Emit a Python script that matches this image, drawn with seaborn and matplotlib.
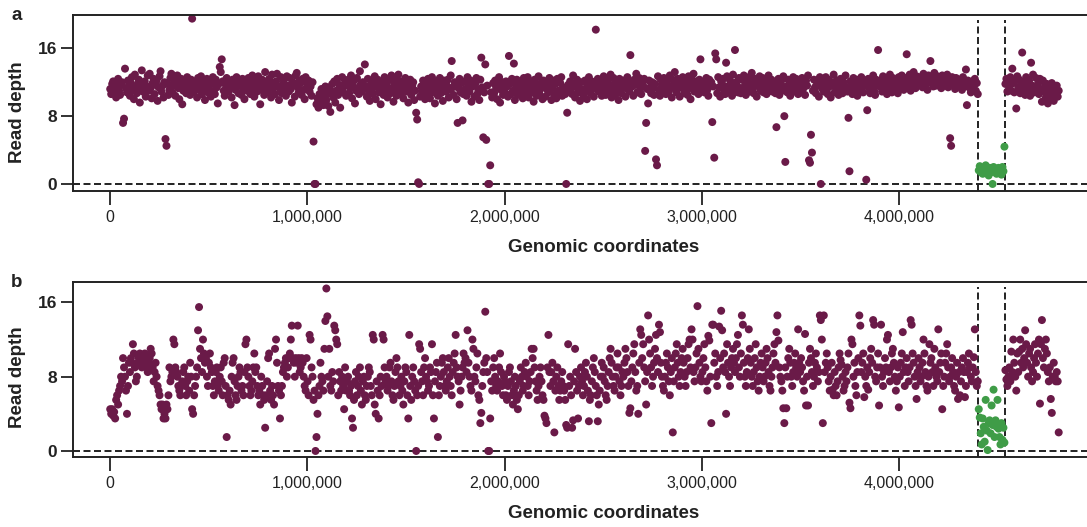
import numpy as np
import pandas as pd
import matplotlib
matplotlib.use("Agg")
import matplotlib.pyplot as plt
import seaborn as sns

# Read depth in consecutive 5 kb windows along the chromosome
WINDOW = 5000
DEL_START, DEL_END = 4_400_000, 4_535_000   # deleted region (dashed lines)

depth_a = [
    11.2, 10.6, 11.8, 12.1, 10.9, 11.5, 10.2, 11.9, 12.4, 11.0, 10.5, 11.7, 12.0, 7.2, 7.7, 13.6, 11.3, 10.8, 12.2, 11.6,
    10.4, 11.9, 12.6, 11.1, 10.0, 12.9, 11.4, 10.7, 11.8, 12.3, 9.6, 11.2, 13.4, 10.9, 11.6, 12.1, 10.3, 11.5, 12.8, 11.0,
    13.0, 11.3, 10.1, 11.9, 12.4, 10.6, 11.7, 12.2, 9.8, 11.4, 12.7, 13.3, 10.9, 11.6, 10.2, 12.0, 5.3, 4.5, 11.8, 10.5,
    11.1, 12.5, 13.0, 10.8, 11.6, 12.2, 10.4, 11.9, 12.8, 11.3, 10.0, 11.7, 12.4, 9.4, 11.0, 12.1, 11.5, 10.7, 12.6, 11.2,
    11.8, 10.5, 12.3, 19.5, 11.4, 10.9, 12.0, 11.6, 10.2, 12.5, 11.1, 11.8, 12.7, 10.6, 11.3, 12.1, 9.9, 11.7, 12.4, 10.8,
    11.5, 12.2, 10.3, 11.9, 12.6, 11.0, 10.6, 12.3, 11.4, 9.5, 11.8, 13.8, 13.2, 14.7, 12.1, 11.0, 10.4, 11.7, 12.5, 11.3,
    10.9, 12.0, 11.4, 10.2, 12.3, 11.7, 9.3, 11.1, 12.6, 11.5, 10.7, 12.1, 11.9, 10.5, 12.4, 11.2, 10.0, 11.8, 12.2, 11.0,
    12.5, 11.3, 10.6, 11.9, 12.8, 11.1, 10.3, 12.2, 11.6, 10.9, 12.7, 11.4, 9.4, 11.8, 12.3, 11.0, 10.5, 13.2, 12.0, 11.5,
    10.8, 12.4, 11.7, 10.2, 12.9, 11.3, 11.9, 10.6, 12.1, 13.0, 11.5, 9.9, 11.2, 12.6, 10.7, 11.8, 12.3, 11.0, 10.4, 12.7,
    11.6, 10.9, 12.5, 11.2, 9.6, 12.0, 11.7, 10.3, 12.8, 13.1, 11.4, 10.8, 12.2, 11.9, 10.5, 12.4, 11.1, 10.0, 12.6, 11.3,
    11.8, 12.2, 10.9, 11.5, 10.4, 12.0, 5.0, 0.0, 0.0, 9.4, 10.1, 9.0, 10.6, 9.7, 11.2, 10.3, 9.3, 10.8, 11.5, 9.9,
    10.6, 9.2, 11.4, 8.5, 10.9, 11.8, 10.2, 12.1, 9.6, 11.0, 12.4, 10.5, 11.7, 9.0, 11.3, 12.6, 10.8, 11.5, 12.0, 10.4,
    11.9, 12.3, 10.7, 11.4, 12.8, 10.1, 11.6, 12.2, 9.5, 11.0, 12.5, 11.3, 10.6, 13.3, 11.8, 10.9, 12.0, 11.2, 14.1, 11.5,
    10.3, 12.4, 11.0, 9.8, 11.7, 12.1, 10.6, 11.4, 12.7, 10.0, 11.9, 12.3, 10.8, 11.5, 9.4, 12.0, 11.2, 10.5, 12.6, 11.1,
    11.6, 10.2, 12.2, 11.3, 10.7, 12.8, 11.0, 9.7, 11.8, 12.4, 10.4, 11.5, 12.9, 11.1, 10.6, 12.1, 11.7, 10.1, 11.4, 12.5,
    10.9, 11.8, 9.6, 11.2, 12.3, 10.5, 11.6, 12.0, 9.9, 11.0, 8.4, 7.6, 0.2, 0.0, 10.3, 11.5, 10.8, 12.2, 11.1, 10.0,
    11.7, 10.6, 12.4, 11.3, 10.1, 11.9, 12.6, 10.8, 11.4, 9.5, 12.1, 11.0, 10.4, 11.8, 12.5, 10.7, 11.2, 9.8, 12.2, 11.5,
    10.9, 11.6, 12.3, 10.2, 11.1, 12.8, 14.5, 11.4, 10.5, 12.0, 11.7, 10.0, 7.2, 11.3, 12.4, 10.8, 11.9, 7.5, 10.6, 12.1,
    11.2, 10.4, 12.6, 11.7, 10.9, 12.2, 9.7, 11.5, 12.0, 10.3, 11.8, 12.5, 10.6, 11.1, 9.9, 12.3, 14.9, 11.4, 5.5, 10.8,
    14.1, 5.2, 11.6, 0.0, 0.0, 2.2, 10.8, 10.2, 11.9, 10.7, 12.2, 11.3, 10.0, 11.7, 12.6, 9.6, 11.1, 12.0, 10.5, 11.4,
    10.8, 12.1, 11.5, 10.3, 15.1, 11.8, 10.6, 12.4, 11.0, 14.2, 9.9, 11.7, 12.3, 10.5, 11.2, 12.0, 10.9, 11.6, 10.1, 12.5,
    11.3, 10.7, 11.9, 12.6, 10.2, 11.4, 12.1, 10.8, 11.7, 9.7, 12.3, 11.0, 10.4, 11.8, 12.7, 10.6, 11.2, 11.9, 10.0, 12.2,
    11.5, 10.3, 12.0, 11.1, 10.8, 12.5, 11.6, 9.9, 11.3, 12.2, 10.5, 11.8, 10.1, 12.4, 11.0, 10.7, 11.9, 12.6, 10.4, 11.4,
    11.2, 10.6, 0.0, 8.4, 11.7, 10.9, 12.1, 11.2, 10.6, 12.8, 11.5, 10.2, 11.9, 12.3, 10.8, 11.4, 9.8, 12.0, 11.1, 10.5,
    10.6, 12.2, 11.3, 10.0, 11.8, 12.6, 11.0, 10.7, 12.1, 11.5, 10.3, 11.9, 18.2, 11.2, 12.4, 10.9, 11.6, 12.0, 10.4, 11.3,
    12.7, 11.1, 10.5, 11.8, 12.3, 10.8, 11.4, 12.9, 10.2, 11.7, 12.5, 11.0, 10.6, 12.1, 11.5, 9.9, 12.4, 11.2, 10.7, 11.9,
    12.2, 11.4, 10.3, 11.8, 12.6, 11.1, 10.9, 15.2, 12.0, 11.5, 10.4, 12.3, 11.7, 13.0, 10.8, 11.9, 12.5, 11.2, 10.6, 12.1,
    11.6, 12.4, 3.9, 7.2, 11.2, 9.5, 12.2, 11.4, 10.7, 12.0, 11.3, 10.5, 11.8, 2.9, 2.2, 12.7, 11.1, 10.4, 12.3, 11.7,
    11.0, 12.5, 11.8, 10.6, 12.1, 11.3, 10.9, 12.8, 11.5, 10.2, 12.3, 11.7, 13.2, 11.1, 10.8, 12.4, 11.6, 10.3, 12.0, 11.4,
    12.6, 11.2, 10.7, 12.2, 11.9, 10.5, 12.7, 11.3, 10.0, 12.4, 11.8, 13.0, 10.9, 11.5, 12.1, 11.0, 10.6, 12.3, 14.7, 11.7,
    11.3, 12.0, 10.8, 11.9, 12.5, 11.1, 10.4, 12.3, 11.6, 12.0, 7.3, 11.5, 3.1, 15.4, 14.7, 10.7, 12.6, 11.4, 10.3, 12.1,
    11.8, 12.4, 11.0, 10.6, 14.3, 12.7, 11.5, 10.9, 12.2, 11.7, 10.4, 12.9, 11.2, 15.8, 12.0, 11.6, 10.8, 12.5, 11.3, 10.7,
    12.3, 11.1, 12.8, 11.6, 10.5, 12.0, 11.4, 12.6, 10.9, 11.8, 13.1, 11.2, 10.7, 12.4, 11.9, 10.3, 12.2, 11.5, 12.7, 11.0,
    11.7, 12.5, 10.8, 11.3, 12.1, 10.6, 11.9, 12.8, 11.0, 11.4, 12.3, 10.9, 11.6, 12.0, 10.7, 6.7, 11.2, 12.4, 10.5, 11.8,
    12.2, 11.0, 12.7, 8.0, 2.6, 11.5, 10.8, 12.3, 11.7, 10.4, 12.0, 11.3, 12.6, 10.9, 11.8, 12.4, 11.1, 10.6, 12.1, 11.6,
    10.8, 12.5, 11.2, 11.9, 10.5, 12.2, 11.6, 12.8, 2.8, 2.5, 5.8, 3.7, 11.0, 12.3, 11.4, 10.7, 12.0, 11.7, 10.3, 12.6,
    0.0, 11.3, 12.1, 10.9, 11.8, 12.6, 11.1, 10.6, 12.3, 11.5, 10.2, 12.0, 11.7, 12.9, 10.8, 11.4, 12.2, 11.0, 10.5, 11.9,
    12.4, 11.2, 10.7, 12.0, 11.6, 12.8, 11.3, 10.9, 7.8, 1.5, 12.1, 11.5, 10.6, 12.5, 11.0, 11.8, 12.3, 10.4, 11.7, 12.0,
    11.1, 12.6, 11.4, 10.8, 12.2, 11.9, 0.5, 8.7, 12.4, 11.3, 10.7, 12.0, 11.6, 12.8, 11.0, 10.5, 12.3, 11.7, 15.8, 12.1,
    11.5, 12.2, 10.9, 12.7, 11.8, 11.2, 12.4, 10.6, 12.0, 11.6, 12.9, 11.3, 10.8, 12.5, 11.9, 11.0, 12.3, 11.7, 10.7, 12.6,
    12.0, 11.4, 12.8, 11.7, 11.1, 12.5, 11.9, 15.3, 12.2, 11.5, 12.9, 11.0, 12.4, 11.8, 13.2, 12.1, 11.3, 12.7, 11.6, 12.3,
    11.8, 12.6, 12.2, 11.4, 13.0, 12.0, 11.7, 12.5, 11.1, 12.8, 12.3, 14.5, 11.9, 12.4, 11.5, 13.1, 12.0, 11.6, 12.7, 12.2,
    11.9, 12.5, 11.3, 12.8, 12.1, 11.6, 12.4, 11.8, 12.9, 11.4, 12.2, 5.4, 4.5, 12.6, 11.7, 12.0, 11.2, 12.5, 11.9, 11.5,
    12.3, 11.7, 12.0, 11.1, 12.6, 11.5, 11.9, 13.5, 9.3, 12.2, 11.4, 11.8, 10.8, 12.1, 11.3, 11.6, 12.4, 11.0, 11.9, 10.6,
    1.6, 2.1, 1.4, 1.8, 1.2, 1.9, 1.5, 2.2, 1.3, 1.7, 1.0, 1.9, 1.6, 1.4, 0.0, 2.0, 1.5, 1.8, 1.2, 1.7,
    1.9, 1.4, 1.7, 1.1, 2.0, 1.5, 4.4, 11.8, 12.4, 10.9, 12.1, 11.3, 12.6, 11.0, 13.6, 11.9, 10.8, 12.2, 8.9, 12.7,
    11.4, 12.3, 10.7, 11.8, 15.5, 12.0, 11.2, 10.5, 12.6, 11.7, 11.0, 12.2, 10.4, 14.3, 11.6, 12.9, 10.8, 11.3, 12.5, 10.9,
    11.8, 10.6, 12.4, 11.1, 9.7, 12.2, 10.9, 11.5, 10.2, 11.8, 9.5, 10.7, 11.3, 10.0, 11.9, 10.4, 9.8, 11.1, 10.6, 11.6,
    10.3, 11.0,
]

depth_b = [
    4.5, 4.0, 4.5, 3.8, 4.2, 3.5, 5.5, 6.0, 5.0, 6.5, 7.0, 8.0, 7.5, 10.0, 9.0, 8.0, 6.5, 4.0, 7.0, 9.5,
    8.5, 10.0, 9.5, 11.5, 10.5, 9.0, 7.5, 8.0, 9.5, 10.0, 10.5, 9.5, 9.0, 10.0, 9.5, 10.5, 10.0, 9.0, 8.5, 9.5,
    10.0, 11.0, 10.5, 9.0, 7.5, 8.5, 9.5, 8.0, 7.0, 6.5, 6.0, 5.0, 4.5, 5.0, 3.5, 4.0, 3.5, 5.0, 4.5, 6.0,
    9.0, 7.5, 8.0, 8.5, 12.0, 11.5, 9.0, 8.5, 8.0, 7.0, 6.5, 6.0, 7.0, 7.5, 8.5, 9.0, 7.0, 6.0, 7.5, 8.0,
    6.5, 9.5, 8.0, 4.5, 4.0, 6.0, 7.0, 8.0, 9.0, 13.0, 15.5, 11.0, 10.0, 8.5, 12.0, 10.5, 9.5, 10.0, 8.0, 7.0,
    9.5, 10.5, 9.0, 8.5, 7.0, 6.0, 7.5, 8.5, 9.0, 7.0, 6.5, 8.0, 9.0, 7.5, 6.0, 9.5, 10.0, 7.0, 1.5, 6.0,
    5.5, 6.5, 5.0, 8.0, 9.5, 10.0, 7.5, 6.0, 5.5, 7.0, 8.0, 9.0, 8.5, 6.5, 7.0, 6.0, 8.5, 11.5, 12.0, 9.0,
    8.0, 7.0, 6.0, 6.5, 7.5, 9.0, 10.5, 8.5, 9.0, 7.0, 6.0, 6.5, 5.0, 8.0, 7.0, 6.0, 5.5, 2.5, 6.0, 7.5,
    10.0, 10.5, 6.5, 5.5, 7.0, 6.0, 5.0, 11.0, 12.0, 9.5, 7.0, 6.5, 3.5, 6.0, 7.0, 8.5, 9.0, 9.5, 10.0, 8.0,
    9.0, 10.0, 10.5, 12.0, 13.5, 10.0, 9.5, 8.0, 10.0, 9.5, 13.5, 10.0, 8.5, 9.0, 10.0, 9.5, 8.0, 7.0, 6.5, 10.0,
    7.5, 6.0, 12.5, 12.0, 9.0, 8.0, 5.5, 6.5, 0.0, 1.5, 4.0, 6.0, 7.0, 9.5, 8.0, 7.5, 6.5, 11.0, 14.0, 17.5,
    14.5, 8.0, 11.0, 7.0, 6.5, 8.5, 7.5, 13.5, 13.0, 12.0, 11.5, 6.0, 8.5, 7.5, 6.5, 8.0, 7.0, 4.5, 9.0, 6.5,
    7.5, 8.0, 6.5, 6.0, 7.0, 3.5, 2.5, 5.5, 7.5, 8.5, 6.0, 7.0, 8.0, 9.0, 6.5, 5.0, 7.5, 8.0, 6.0, 5.5,
    7.0, 8.0, 9.0, 8.5, 7.0, 6.0, 12.5, 12.0, 5.0, 4.0, 7.5, 6.5, 3.5, 6.0, 8.0, 7.0, 12.5, 12.0, 9.0, 7.5,
    8.0, 6.5, 7.0, 9.0, 9.5, 7.5, 6.0, 5.5, 7.0, 8.5, 10.0, 9.0, 7.5, 6.0, 7.0, 8.0, 6.5, 5.0, 7.5, 9.0,
    8.5, 6.0, 3.5, 12.5, 7.0, 5.5, 8.0, 9.0, 7.5, 6.5, 0.0, 6.0, 7.0, 11.5, 11.0, 8.5, 7.5, 6.0, 9.0, 10.0,
    8.0, 7.5, 6.5, 7.0, 9.0, 8.5, 11.5, 6.0, 3.5, 7.5, 8.5, 9.5, 1.5, 6.0, 7.0, 8.0, 9.5, 10.0, 8.5, 7.0,
    6.5, 7.5, 9.0, 10.0, 8.0, 7.0, 6.0, 8.5, 9.5, 10.5, 12.5, 9.0, 8.0, 7.5, 5.0, 6.5, 8.0, 9.0, 10.5, 9.5,
    10.0, 8.5, 13.0, 9.5, 8.0, 7.0, 6.5, 12.0, 11.0, 8.0, 7.5, 9.0, 10.5, 6.0, 5.5, 3.0, 4.1, 7.0, 8.5, 9.5,
    15.0, 10.0, 8.5, 0.0, 0.0, 3.5, 7.5, 6.5, 9.0, 10.0, 8.0, 7.0, 6.5, 7.5, 9.0, 10.5, 8.5, 7.0, 6.0, 8.0,
    7.5, 6.0, 5.5, 7.0, 8.5, 9.0, 7.5, 6.0, 5.0, 6.5, 8.0, 7.0, 5.5, 4.5, 6.0, 7.5, 9.0, 8.0, 6.5, 7.0,
    8.5, 9.5, 8.0, 7.0, 6.0, 7.5, 8.5, 11.0, 10.0, 11.0, 9.0, 7.5, 6.5, 5.5, 7.0, 8.0, 9.0, 7.5, 6.0, 5.5,
    3.8, 3.5, 3.0, 9.0, 12.5, 8.5, 7.0, 8.5, 9.5, 7.5, 2.0, 6.5, 8.0, 9.0, 7.0, 5.5, 6.5, 7.5, 8.5, 7.0,
    6.5, 5.5, 2.8, 2.5, 11.5, 7.0, 8.0, 6.0, 2.5, 3.3, 7.5, 11.0, 8.5, 6.5, 3.5, 7.0, 8.0, 9.0, 7.5, 6.0,
    7.0, 8.5, 9.5, 8.0, 6.5, 3.2, 5.5, 6.0, 7.5, 9.0, 10.0, 8.5, 7.0, 6.0, 3.2, 5.0, 6.5, 8.0, 9.5, 8.0,
    9.0, 7.5, 6.0, 5.5, 7.0, 8.5, 10.0, 11.0, 9.5, 8.0, 7.0, 6.5, 8.0, 9.0, 10.5, 9.0, 7.5, 6.0, 7.0, 8.5,
    8.0, 9.5, 11.0, 10.0, 8.5, 7.0, 4.1, 4.6, 7.5, 9.0, 10.5, 11.5, 8.5, 6.5, 7.0, 4.0, 9.5, 13.1, 12.5, 10.0,
    11.5, 9.0, 7.5, 5.0, 8.5, 14.6, 12.0, 10.5, 9.0, 7.0, 8.0, 9.5, 11.0, 12.5, 10.0, 8.5, 13.6, 12.8, 9.5, 8.0,
    7.0, 6.5, 8.0, 9.5, 10.5, 9.0, 7.5, 6.0, 8.5, 10.0, 2.0, 7.5, 9.0, 10.5, 11.5, 9.5, 8.0, 7.0, 8.5, 10.0,
    11.0, 9.5, 8.0, 7.0, 8.5, 10.0, 11.5, 12.0, 9.0, 13.1, 12.0, 8.5, 7.5, 9.0, 10.5, 15.6, 11.0, 9.5, 8.0, 7.5,
    8.5, 10.0, 11.5, 9.0, 7.5, 6.5, 12.4, 11.9, 8.0, 3.0, 13.6, 13.6, 9.5, 10.5, 8.0, 7.0, 8.5, 13.4, 10.0, 15.1,
    13.0, 9.0, 10.5, 8.5, 4.0, 11.5, 9.5, 8.0, 7.0, 9.0, 10.0, 11.0, 9.5, 8.5, 10.0, 11.5, 12.5, 9.0, 8.0, 10.5,
    14.6, 13.6, 9.5, 8.0, 7.0, 8.5, 10.0, 13.1, 11.0, 9.5, 8.0, 7.0, 8.5, 10.0, 11.5, 9.0, 7.5, 6.5, 8.0, 9.5,
    10.5, 9.0, 7.5, 8.0, 9.5, 11.0, 10.0, 8.5, 7.0, 6.5, 8.0, 9.0, 10.5, 11.5, 9.5, 12.8, 14.6, 11.9, 9.0, 8.0,
    7.5, 6.5, 4.6, 3.0, 9.0, 4.6, 8.0, 10.0, 11.0, 9.5, 8.0, 7.0, 8.5, 9.5, 10.5, 9.0, 8.0, 13.1, 9.5, 8.5,
    10.0, 9.0, 7.5, 6.5, 12.6, 4.9, 8.0, 4.9, 9.5, 11.0, 10.0, 8.5, 7.0, 8.0, 9.5, 10.5, 9.0, 7.5, 8.5, 14.6,
    14.1, 12.0, 3.0, 14.6, 8.5, 9.5, 10.5, 9.0, 7.5, 6.5, 8.0, 9.5, 6.6, 6.0, 8.5, 7.0, 6.0, 7.5, 9.0, 10.5,
    9.8, 9.3, 8.0, 6.5, 7.0, 8.5, 7.5, 9.0, 10.5, 5.2, 4.6, 12.0, 11.5, 8.0, 9.5, 7.0, 6.0, 8.5, 10.0, 14.6,
    13.5, 8.5, 9.5, 10.5, 5.8, 8.0, 7.0, 9.0, 6.6, 8.5, 10.0, 11.0, 9.5, 14.1, 13.6, 8.0, 7.5, 9.0, 10.5, 4.9,
    9.0, 13.6, 8.0, 7.0, 8.5, 10.0, 9.0, 12.0, 12.5, 8.5, 7.5, 9.0, 10.5, 11.0, 9.5, 8.0, 6.5, 7.5, 9.0, 4.7,
    8.0, 9.5, 10.5, 12.8, 8.5, 7.0, 9.0, 10.0, 8.5, 7.5, 9.0, 14.1, 13.6, 10.5, 9.5, 8.0, 7.0, 5.6, 8.5, 10.0,
    9.0, 7.5, 8.0, 9.5, 12.0, 10.5, 8.5, 7.0, 6.5, 8.0, 11.5, 9.5, 10.0, 8.5, 7.0, 11.0, 9.0, 8.0, 7.5, 13.1,
    8.5, 9.5, 10.5, 4.5, 7.0, 8.0, 9.5, 10.5, 11.5, 9.0, 7.5, 8.0, 9.0, 10.0, 8.5, 7.0, 6.5, 8.0, 9.5, 5.6,
    8.5, 6.0, 7.5, 9.0, 10.0, 8.5, 5.8, 7.0, 8.5, 9.5, 10.5, 9.0, 8.0, 7.5, 9.0, 10.1, 13.1, 8.5, 7.0, 7.5,
    4.5, 3.6, 1.9, 0.7, 3.5, 2.6, 1.0, 5.5, 2.2, 0.1, 3.0, 3.3, 1.9, 4.9, 2.8, 6.6, 1.5, 3.3, 2.6, 5.5,
    2.4, 1.5, 0.7, 3.0, 1.2, 2.5, 0.9, 8.7, 7.7, 7.0, 8.0, 9.0, 7.5, 10.7, 8.5, 12.0, 9.5, 8.0, 6.5, 10.5,
    8.5, 10.7, 12.0, 9.5, 11.0, 9.0, 10.0, 13.0, 11.5, 9.5, 8.0, 10.5, 11.0, 9.0, 7.5, 8.5, 10.0, 11.5, 9.5, 8.0,
    10.5, 12.0, 5.1, 11.5, 14.1, 10.0, 9.0, 11.0, 12.0, 10.5, 8.5, 7.5, 9.0, 5.6, 4.1, 8.0, 9.5, 8.0, 7.5, 8.5,
    7.5, 2.0,
]

x_ticks = [0, 1_000_000, 2_000_000, 3_000_000, 4_000_000]
x_tick_labels = ["0", "1,000,000", "2,000,000", "3,000,000", "4,000,000"]
y_ticks = [0, 8, 16]

COLORS = {"present": "#6a1a48", "deleted": "#3f9c47"}
INK = "#222222"
DASH = (0, (3.6, 1.8))

sns.set_theme(style="white")
plt.rcParams["font.family"] = ["Liberation Sans", "DejaVu Sans"]


def windows(depths):
    pos = WINDOW // 2 + WINDOW * np.arange(len(depths))
    status = np.where((pos >= DEL_START) & (pos < DEL_END), "deleted", "present")
    return pd.DataFrame({"pos": pos, "depth": depths, "status": status})


W, H = 1087, 527
fig = plt.figure(figsize=(W / 100, H / 100), dpi=100)

# panel geometry in pixels: letter, data, top, bottom, y-limits, label centre
panels = [
    ("a", depth_a, 15, 191, (-0.83, 19.93), 0.446),
    ("b", depth_b, 282, 457, (-0.65, 18.2), 0.457),
]
AX_LEFT, AX_RIGHT = 73, 1135
XLIM = (-186_000, 5_194_000)

for letter, depths, top, bottom, ylim, ylab_y in panels:
    ax = fig.add_axes([AX_LEFT / W, 1 - bottom / H,
                       (AX_RIGHT - AX_LEFT) / W, (bottom - top) / H])
    df = windows(depths)

    ax.axhline(0, color=INK, lw=1.4, ls=DASH, zorder=1)
    for xv in (DEL_START, DEL_END):
        ax.axvline(xv, ymin=0, ymax=0.97, color=INK, lw=1.4, ls=DASH, zorder=1)

    sns.scatterplot(data=df, x="pos", y="depth", hue="status", palette=COLORS,
                    s=33, linewidth=0, legend=False, ax=ax, zorder=2)

    ax.set_xlim(*XLIM)
    ax.set_ylim(*ylim)
    ax.set_xticks(x_ticks)
    ax.set_xticklabels(x_tick_labels)
    ax.set_yticks(y_ticks)
    ax.set_yticklabels([str(v) for v in y_ticks], fontweight="bold")

    for side in ("left", "top", "bottom"):
        ax.spines[side].set_color(INK)
        ax.spines[side].set_linewidth(1.4)
    ax.spines["right"].set_visible(False)

    ax.tick_params(axis="x", direction="out", length=10, width=1.3,
                   colors=INK, labelsize=11.5, pad=4, bottom=True)
    ax.tick_params(axis="y", direction="out", length=8.5, width=1.3,
                   colors=INK, labelsize=12.5, pad=3, left=True)

    ax.set_xlabel("Genomic coordinates", fontsize=13.5, fontweight="bold",
                  color=INK)
    ax.xaxis.label.set_va("center")
    ax.xaxis.set_label_coords(0.5, -57 / (bottom - top))
    ax.set_ylabel("Read depth", fontsize=13.5, fontweight="bold", color=INK)
    ax.yaxis.label.set_va("center")
    ax.yaxis.set_label_coords((18 - AX_LEFT) / (AX_RIGHT - AX_LEFT), ylab_y)

    fig.text(11 / W, 1 - (top + 5) / H, letter, fontsize=13.5,
             fontweight="bold", color=INK, va="baseline", ha="left")

fig.savefig("out.png", dpi=100)
